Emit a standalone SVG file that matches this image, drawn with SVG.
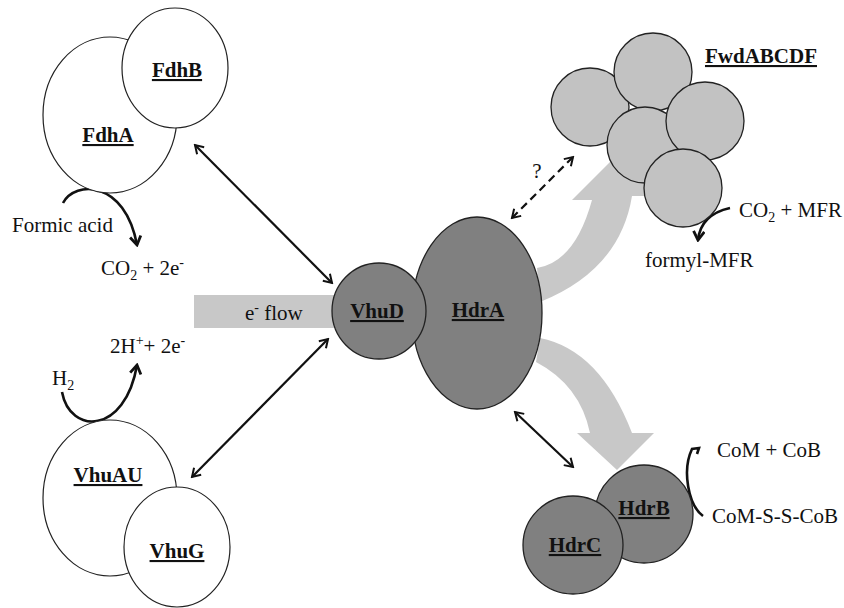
<svg xmlns="http://www.w3.org/2000/svg" width="844" height="608" viewBox="0 0 844 608">
<style>
text { font-family: "Liberation Serif", "Times New Roman", serif; font-size: 21px; fill: #111; }
.lbl { font-weight: bold; text-anchor: middle; text-decoration: underline; }
.white { fill: #fff; stroke: #222; stroke-width: 1.2; }
.dark { fill: #808080; stroke: #222; stroke-width: 1.3; }
.light { fill: #c2c2c2; stroke: #222; stroke-width: 1.3; }
.band { fill: #c8c8c8; }
.arr { fill: none; stroke: #111; stroke-width: 2.2; }
.curve { fill: none; stroke: #111; stroke-width: 2.6; }
.s { font-size: 14px; }
</style>
<defs>
<marker id="ah" viewBox="0 0 12 12" refX="10" refY="6" markerWidth="12" markerHeight="12" markerUnits="userSpaceOnUse" orient="auto-start-reverse">
<path d="M2,1 L10,6 L2,11" fill="none" stroke="#111" stroke-width="2" stroke-dasharray="none"/>
</marker>
<marker id="ah2" viewBox="0 0 12 12" refX="10" refY="6" markerWidth="13" markerHeight="13" markerUnits="userSpaceOnUse" orient="auto">
<path d="M2,1 L10,6 L2,11" fill="none" stroke="#111" stroke-width="2.6"/>
</marker>
</defs>

<g id="connectors">
<rect class="band" x="194" y="295" width="160" height="33"/>
<path class="band" d="M 537 268 Q 575 262 592 200 L 572 200 L 622 150 L 652 196 L 632 196 Q 620 270 540 302 Z"/>
<path class="band" d="M 540 338 Q 600 350 632 433 L 654 433 L 617 470 L 577 433 L 590 433 Q 580 385 536 362 Z"/>
<line class="arr" x1="195" y1="145" x2="332" y2="283" marker-start="url(#ah)" marker-end="url(#ah)"/>
<line class="arr" x1="192" y1="477" x2="328" y2="339" marker-start="url(#ah)" marker-end="url(#ah)"/>
<line class="arr" x1="515" y1="412" x2="573" y2="467" marker-start="url(#ah)" marker-end="url(#ah)"/>
<line class="arr" x1="512" y1="218" x2="573" y2="157" stroke-dasharray="8,5" marker-start="url(#ah)" marker-end="url(#ah)"/>
<path class="curve" d="M 63 203 C 75 180, 125 180, 137 245" marker-end="url(#ah2)"/>
<path class="curve" d="M 62 392 C 70 435, 125 435, 137 365" marker-end="url(#ah2)"/>
<path class="curve" d="M 730 208 C 712 212, 700 222, 698 240" marker-end="url(#ah2)"/>
<path class="curve" d="M 703 516 C 688 505, 682 470, 692 449 L 699 448 L 697 454"/>
</g>

<g id="FdhA"><ellipse class="white" cx="110" cy="115" rx="67" ry="78"/><text class="lbl" x="108" y="142">FdhA</text></g>
<g id="FdhB"><ellipse class="white" cx="175" cy="68" rx="53" ry="60"/><text class="lbl" x="177" y="77">FdhB</text></g>
<g id="VhuAU"><ellipse class="white" cx="110" cy="498" rx="67" ry="78"/><text class="lbl" x="108" y="482">VhuAU</text></g>
<g id="VhuG"><ellipse class="white" cx="177" cy="547" rx="53" ry="60"/><text class="lbl" x="177" y="558">VhuG</text></g>
<g id="HdrA"><ellipse class="dark" cx="477" cy="313" rx="65" ry="96"/><text class="lbl" x="478" y="317">HdrA</text></g>
<g id="VhuD"><ellipse class="dark" cx="379" cy="311" rx="47" ry="48"/><text class="lbl" x="377" y="318">VhuD</text></g>
<g id="FwdABCDF">
<circle class="light" cx="590" cy="107" r="39"/>
<circle class="light" cx="653" cy="72" r="39"/>
<circle class="light" cx="645" cy="145" r="38"/>
<circle class="light" cx="705" cy="121" r="39"/>
<circle class="light" cx="683" cy="188" r="39"/>
<text class="lbl" x="761" y="63">FwdABCDF</text>
</g>
<g id="HdrB"><ellipse class="dark" cx="644" cy="514" rx="49" ry="49"/><text class="lbl" x="644" y="515">HdrB</text></g>
<g id="HdrC"><ellipse class="dark" cx="573" cy="545" rx="50" ry="49"/><text class="lbl" x="575" y="552">HdrC</text></g>

<g id="labels">
<text x="12" y="232">Formic acid</text>
<text x="101" y="275">CO<tspan class="s" dy="5">2</tspan><tspan dy="-5"> + 2e</tspan><tspan class="s" dy="-8">-</tspan></text>
<text x="245" y="320">e<tspan class="s" dy="-8">-</tspan><tspan dy="8"> flow</tspan></text>
<text x="110" y="353">2H<tspan class="s" dy="-8">+</tspan><tspan dy="8">+ 2e</tspan><tspan class="s" dy="-8">-</tspan></text>
<text x="52" y="385">H<tspan class="s" dy="5">2</tspan></text>
<text x="537" y="178" text-anchor="middle">?</text>
<text x="739" y="217">CO<tspan class="s" dy="5">2</tspan><tspan dy="-5"> + MFR</tspan></text>
<text x="645" y="267">formyl-MFR</text>
<text x="717" y="457">CoM + CoB</text>
<text x="712" y="523">CoM-S-S-CoB</text>
</g>
</svg>
